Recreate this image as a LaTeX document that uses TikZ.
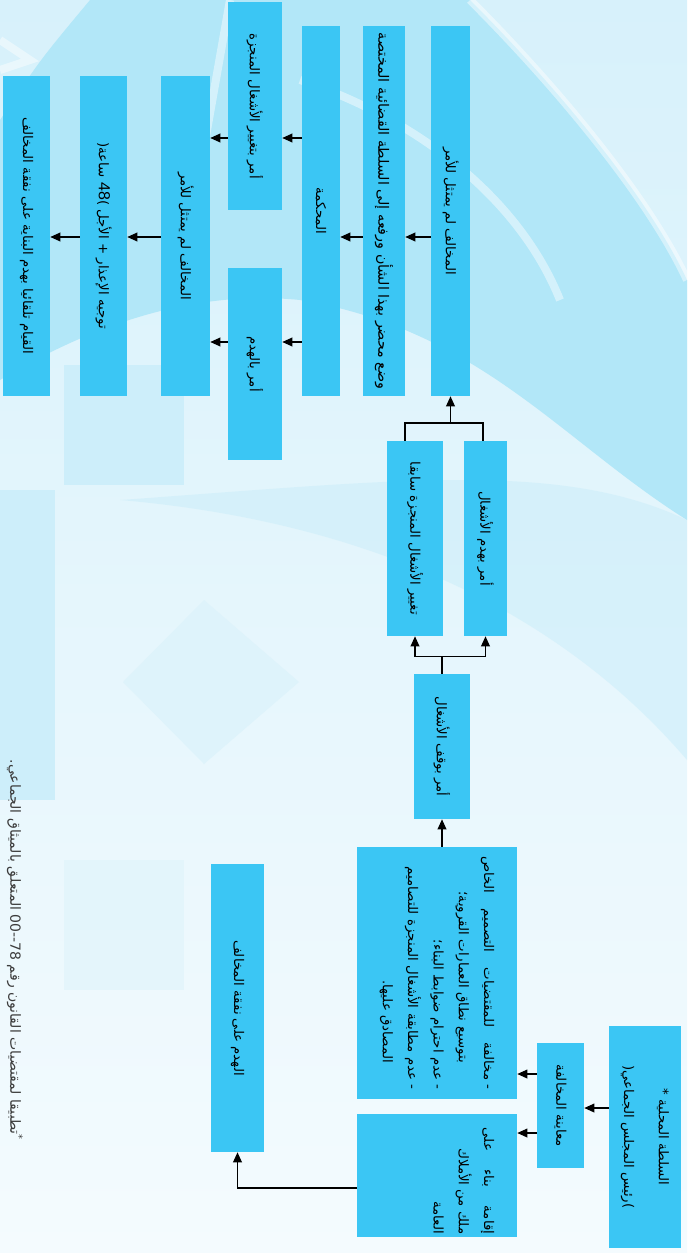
\documentclass[tikz,border=0pt]{standalone}
\usepackage{fontspec}
\newfontfamily\arabicfont[Script=Arabic]{DejaVu Sans}
\TeXXeTstate=1
\usetikzlibrary{arrows.meta}
\definecolor{boxc}{RGB}{59,198,244}
\definecolor{bgtop}{RGB}{215,241,251}
\definecolor{bgbot}{RGB}{244,251,254}
\definecolor{band}{RGB}{178,231,248}
\definecolor{bandlight}{RGB}{205,238,250}
\definecolor{wm}{RGB}{222,243,251}
\definecolor{fncol}{RGB}{60,60,60}
\begin{document}
\begin{tikzpicture}[x=0.75pt,y=-0.75pt,
  box/.style={fill=boxc, draw=none, rotate=-90, inner sep=2pt,
    font=\arabicfont\fontsize{10}{13}\selectfont, align=center},
  sz/.style 2 args={minimum width=#2*0.75pt, minimum height=#1*0.75pt},
  arr/.style={-{Triangle[length=7.5pt,width=6.5pt]}, line width=1pt, black},
  link/.style={line width=1pt, black},
  note/.style={rotate=-90, font=\arabicfont\fontsize{10.5}{12}\selectfont, text=fncol, inner sep=0pt}]
% background
\useasboundingbox (0,0) rectangle (687,1253);
\shade[top color=bgtop, bottom color=bgbot] (0,0) rectangle (687,1253);
\fill[band] (90,0) -- (470,0) .. controls (560,90) and (650,200) .. (687,280)
  -- (687,520) .. controls (560,440) and (480,330) .. (300,300)
  .. controls (200,290) and (100,320) .. (0,380) -- (0,120) .. controls (40,60) .. (90,0) -- cycle;
\draw[white, opacity=0.45, line width=6] (470,0) .. controls (560,90) and (650,200) .. (687,280);
\draw[white, opacity=0.45, line width=6] (230,0) -- (200,170);
\draw[white, opacity=0.45, line width=6] (0,40) -- (30,60) -- (0,70);
\draw[white, opacity=0.45, line width=6] (300,80) .. controls (420,120) and (520,200) .. (560,300);
\fill[bandlight] (55,490) -- (55,800) -- (0,800) -- (0,490) -- cycle;
\fill[bandlight, opacity=0.6] (120,500) .. controls (350,520) and (550,600) .. (687,760) -- (687,520) .. controls (560,460) and (400,480) .. (120,500) -- cycle;
\fill[bandlight] (64,365) rectangle (184,485);
\fill[wm] (123,682) -- (204,600) -- (299,682) -- (204,764) -- cycle;
\fill[wm, opacity=0.6] (64,860) rectangle (184,990);
% boxes
\node[box, sz={72}{222}] (A) at (645,1137)
  {\beginR السلطة المحلية *\endR\\[13pt]\beginR)\kern0pt رئيس المجلس الجماعي\kern0pt(\endR};
\node[box, sz={47}{125}] (B) at (560.5,1105.5) {\beginR معاينة المخالفة\endR};
\node[box, sz={160}{252}, text width=175pt, align=right,
  font=\arabicfont\fontsize{10}{19}\selectfont] (C) at (437,973)
  {\leavevmode\hbox to 175pt{\beginR - مخالفة \hfil للمقتضيات \hfil التصميم \hfil الخاص\endR}\\
   \beginR بتوسيع نطاق العمارات القروية؛\endR\kern20pt\\
   \beginR - عدم احترام ضوابط البناء؛\endR\\
   \beginR - عدم مطابقة الأشغال المنجزة للتصاميم\endR\\
   \beginR المصادق عليها\kern0pt.\endR\kern20pt};
\node[box, sz={160}{123}, font=\arabicfont\fontsize{10}{19}\selectfont] (D) at (437,1175.5)
  {\parbox[c][86pt][t]{88pt}{\raggedleft
   \leavevmode\hbox to 80pt{\beginR إقامة \hfil بناء \hfil على\endR}\\
   \beginR ملك من الأملاك\endR\\
   \beginR العامة\endR}};
\node[box, sz={53}{288}] (E) at (237.5,1008) {\beginR الهدم على نفقة المخالف\endR};
\node[box, sz={56}{145}] (F) at (442,746.5) {\beginR أمر بوقف الأشغال\endR};
\node[box, sz={56}{195}] (G) at (415,538.5) {\beginR تغيير الأشغال المنجزة سابقا\endR};
\node[box, sz={43}{195}] (H) at (485.5,538.5) {\beginR أمر بهدم الأشغال\endR};
\node[box, sz={39}{370}] (I) at (450.5,211) {\beginR المخالف لم يمتثل للأمر\endR};
\node[box, sz={42}{370}, font=\arabicfont\fontsize{10.7}{13}\selectfont] (J) at (384,211)
  {\beginR وضع محضر بهذا الشأن ورفعه إلى السلطة القضائية المختصة\endR};
\node[box, sz={38}{370}] (K) at (321,211) {\beginR المحكمة\endR};
\node[box, sz={54}{208}] (L) at (255,106) {\beginR أمر بتغيير الأشغال المنجزة\endR};
\node[box, sz={54}{192}] (M) at (255,364) {\beginR أمر بالهدم\endR};
\node[box, sz={49}{320}] (N) at (185.5,236) {\beginR المخالف لم يمتثل للأمر\endR};
\node[box, sz={47}{320}] (O) at (103.5,236)
  {\beginR توجيه الإعذار + الأجل )\kern0pt{\fontspec{Liberation Sans}\fontsize{12}{13}\selectfont 48} ساعة\kern0pt(\endR};
\node[box, sz={47}{320}] (P) at (26.5,236) {\beginR القيام تلقائيا بهدم البناية على نفقة المخالف\endR};
\node[note] (fn) at (15,950)
  {\beginR\textsuperscript{*}تطبيقا لمقتضيات القانون رقم \beginL 78--00\endL{} المتعلق بالميثاق الجماعي\kern0pt.\endR};
% connectors
\draw[arr] (A.south |- 0,1108) -- (B.north |- 0,1108);
\draw[arr] (B.south |- 0,1074) -- (C.north |- 0,1074);
\draw[arr] (B.south |- 0,1133) -- (D.north |- 0,1133);
\draw[arr] (D.south |- 0,1188) -| (E.east);
\draw[arr] (F.east |- C.west) -- (F.east);
\path (F.west) ++(0,-17) coordinate (fj);
\draw[link] (F.west) -- (fj);
\draw[arr] (fj) -| (G.east);
\draw[arr] (fj) -| (H.east);
\coordinate (gj) at (I.east |- 0,423);
\draw[link] (G.west -| 405,0) |- (gj) -| (H.west -| 483,0);
\draw[arr] (gj) -- (I.east);
\draw[arr] (I.south |- 0,237) -- (J.north |- 0,237);
\draw[arr] (J.south |- 0,237) -- (K.north |- 0,237);
\draw[arr] (K.south |- 0,138) -- (L.north |- 0,138);
\draw[arr] (K.south |- 0,342) -- (M.north |- 0,342);
\draw[arr] (L.south |- 0,138) -- (N.north |- 0,138);
\draw[arr] (M.south |- 0,342) -- (N.north |- 0,342);
\draw[arr] (N.south |- 0,237) -- (O.north |- 0,237);
\draw[arr] (O.south |- 0,237) -- (P.north |- 0,237);
\end{tikzpicture}
\end{document}
